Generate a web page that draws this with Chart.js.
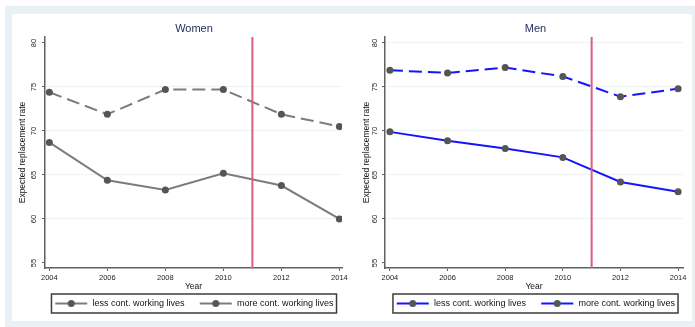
<!DOCTYPE html>
<html><head><meta charset="utf-8">
<script src="https://cdn.jsdelivr.net/npm/chart.js@4.4.1/dist/chart.umd.min.js"></script>
<style>
html,body{margin:0;padding:0;background:#fff;width:695px;height:327px;overflow:hidden}
#frame{position:absolute;left:5px;top:6px;width:690px;height:321px;background:#e9f1f4}
#inner{position:absolute;left:12px;top:14px;width:680px;height:307px;background:#fff}
canvas{position:absolute}
#c1{left:12px;top:14px;width:364px;height:304px}
#c2{left:346px;top:14px;width:379px;height:304px}
</style></head><body>
<div id="frame"></div><div id="inner"></div>
<canvas id="c1" width="364" height="304"></canvas>
<canvas id="c2" width="379" height="304"></canvas>
<script>
// ---- data ----
const years = [2004, 2006, 2008, 2010, 2012, 2014];
const womenLess = [68.7, 64.4, 63.3, 65.2, 63.8, 60.0];
const womenMore = [74.4, 71.9, 74.7, 74.7, 71.9, 70.5];
const menLess = [69.9, 68.9, 68.0, 67.0, 64.2, 63.1];
const menMore = [76.9, 76.6, 77.2, 76.2, 73.9, 74.8];
const seriesLabels = ['less cont. working lives', 'more cont. working lives'];
const yTickValues = [55, 60, 65, 70, 75, 80];
const xTickValues = [2004, 2006, 2008, 2010, 2012, 2014];
const reformYear = 2011;
const yAxisTitle = 'Expected replacement rate';
const xAxisTitle = 'Year';

Chart.defaults.font.family = '"Liberation Sans", Arial, Helvetica, sans-serif';
Chart.defaults.color = '#222';

const yMin = 54.43, yMax = 80.68;

function legendImage(color) {
  const c = document.createElement('canvas');
  c.width = 34; c.height = 9;
  const g = c.getContext('2d');
  g.strokeStyle = color; g.lineWidth = 2;
  g.beginPath(); g.moveTo(1, 4.5); g.lineTo(33, 4.5); g.stroke();
  g.fillStyle = '#555'; g.beginPath(); g.arc(17, 4.5, 3.5, 0, Math.PI * 2); g.fill();
  return c;
}

const legendBox = {
  id: 'legendBox',
  afterDraw(chart) {
    const lg = chart.legend;
    if (!lg || !lg.legendHitBoxes || !lg.legendHitBoxes.length) return;
    const hb = lg.legendHitBoxes;
    const f = hb[0], l = hb[hb.length - 1];
    const ctx = chart.ctx;
    ctx.save();
    ctx.strokeStyle = '#3c3c3c'; ctx.lineWidth = 1.5;
    const left = f.left - 3, right = l.left + l.width + 3;
    const cy = f.top + f.height / 2;
    ctx.strokeRect(left, cy - 9.5, right - left, 19);
    ctx.restore();
  }
};

function makeChart(id, cfg) {
  const img = legendImage(cfg.color);
  const mk = (vals) => years.map((y, i) => ({x: y, y: vals[i]}));
  return new Chart(document.getElementById(id), {
    type: 'line',
    data: {
      datasets: [
        {label: seriesLabels[0], data: mk(cfg.less), borderColor: cfg.color, borderWidth: 2,
         pointRadius: 3.5, pointBackgroundColor: '#555', pointBorderColor: '#555', pointBorderWidth: 0, tension: 0, order: 1},
        {label: seriesLabels[1], data: mk(cfg.more), borderColor: cfg.color, borderWidth: 2, borderDash: [13, 6],
         pointRadius: 3.5, pointBackgroundColor: '#555', pointBorderColor: '#555', pointBorderWidth: 0, tension: 0, order: 1},
        {label: 'reform', data: [{x: reformYear, y: yMin}, {x: reformYear, y: yMax}], borderColor: '#dd5e7c',
         borderWidth: 2, pointRadius: 0, tension: 0, order: 0}
      ]
    },
    options: {
      responsive: false, animation: false, events: [],
      layout: {padding: 0},
      plugins: {
        tooltip: {enabled: false},
        title: {display: true, text: cfg.title, color: '#23305a', font: {size: 11, weight: 'normal'},
                padding: {top: 8.4, bottom: 1.4}},
        legend: {
          display: true, position: 'bottom', align: 'center',
          labels: {
            usePointStyle: true, pointStyleWidth: 33.5, padding: 14.5,
            font: {size: 9}, color: '#111',
            generateLabels: (chart) => [0, 1].map(i => ({
              text: chart.data.datasets[i].label, pointStyle: img, fillStyle: cfg.color,
              strokeStyle: cfg.color, lineWidth: 0, hidden: false, datasetIndex: i, fontColor: '#111'
            }))
          }
        }
      },
      scales: {
        x: {
          type: 'linear', position: 'bottom', min: cfg.xMin, max: cfg.xMax,
          afterBuildTicks: (s) => { s.ticks = xTickValues.map(v => ({value: v})); },
          afterFit: (s) => { s.height = 16.5; },
          grid: {color: 'rgba(0,0,0,0)', tickColor: '#606060', tickLength: 3, lineWidth: 1, drawOnChartArea: false},
          border: {display: true, color: '#606060', width: 1.5},
          ticks: {font: {size: 7.5}, color: '#222', padding: 2.5, maxRotation: 0, autoSkip: false,
                  callback: (v) => String(v)},
          title: {display: true, text: xAxisTitle, font: {size: 8.5}, color: '#111', padding: {top: 0, bottom: -7.6}}
        },
        y: {
          type: 'linear', position: 'left', min: yMin, max: yMax,
          afterBuildTicks: (s) => { s.ticks = yTickValues.map(v => ({value: v})); },
          afterFit: (s) => { s.width = cfg.yWidth; },
          grid: {color: (c) => (c.tick && cfg.gridVals.includes(c.tick.value)) ? '#edf3f5' : 'rgba(0,0,0,0)',
                 tickColor: '#606060', tickLength: 3, lineWidth: 1},
          border: {display: true, color: '#606060', width: 1.5},
          ticks: {font: {size: 7.5}, color: '#222', minRotation: 90, maxRotation: 90, crossAlign: 'center',
                  padding: cfg.tickPad, autoSkip: false, callback: (v) => String(v)},
          title: {display: true, text: yAxisTitle, font: {size: 8.5}, color: '#111', padding: {top: cfg.titlePad, bottom: 0}}
        },
        pad: {
          type: 'linear', position: 'right', display: true,
          afterFit: (s) => { s.width = cfg.padWidth; },
          grid: {display: false}, ticks: {display: false}, border: {display: false}
        }
      }
    },
    plugins: [legendBox]
  });
}

makeChart('c1', {title: 'Women', color: '#7c7c7c', less: womenLess, more: womenMore,
  xMin: 2003.85, xMax: 2014.09, yWidth: 33, padWidth: 34, tickPad: 3.8, titlePad: 5.9, gridVals: [60, 65, 70, 75]});
makeChart('c2', {title: 'Men', color: '#1414ff', less: menLess, more: menMore,
  xMin: 2003.83, xMax: 2014.17, yWidth: 39, padWidth: 42, tickPad: 3.3, titlePad: 15.4, gridVals: [60, 65, 70, 75, 80]});
</script>
</body></html>
